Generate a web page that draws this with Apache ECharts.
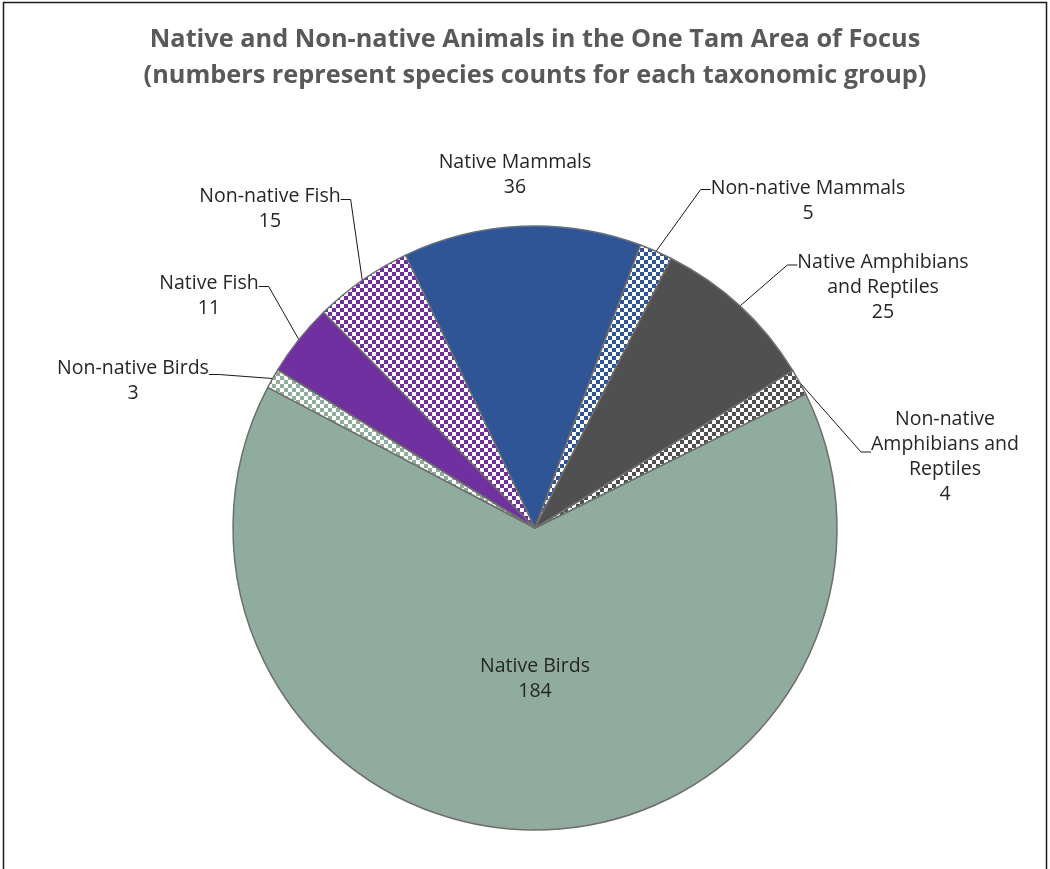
<!DOCTYPE html>
<html><head><meta charset="utf-8">
<script src="https://cdn.jsdelivr.net/npm/echarts@6/dist/echarts.min.js"></script>
<style>html,body{margin:0;padding:0;background:#fff}#c{width:1050px;height:869px}</style>
</head><body><div id="c"></div>
<script>
// ---- data ----
const categories = [
  'Native Birds',
  'Non-native Birds',
  'Native Fish',
  'Non-native Fish',
  'Native Mammals',
  'Non-native Mammals',
  'Native Amphibians\nand Reptiles',
  'Non-native\nAmphibians and\nReptiles'
];
const speciesCounts = [184, 3, 11, 15, 36, 5, 25, 4];
const nonNative = [false, true, false, true, false, true, false, true];

// ---- style / layout ----
const baseColors = ['#8FAC9E', '#8FAC9E', '#7030A0', '#7030A0', '#2F5597', '#2F5597', '#505050', '#505050'];
// label text-block centres, and an invisible spacer above each label that moves the leader-line attach point up
const labelPos = [[535, 679], [133, 381], [209, 296], [270, 209], [515, 175], [808, 201], [883, 287], [945, 457]];
const labelPadTop = [0, 13, 19, 19, 0, 23, 44, 10];

function checker(color) {
  const c = document.createElement('canvas');
  c.width = 8; c.height = 8;
  const g = c.getContext('2d');
  g.fillStyle = '#ffffff'; g.fillRect(0, 0, 8, 8);
  g.fillStyle = color; g.fillRect(0, 0, 4, 4); g.fillRect(4, 4, 4, 4);
  return c;
}

const data = categories.map((name, i) => {
  const item = {
    name: name,
    value: speciesCounts[i],
    itemStyle: { color: nonNative[i] ? { image: checker(baseColors[i]), repeat: 'repeat' } : baseColors[i] }
  };
  if (labelPadTop[i] > 0) {
    item.label = {
      formatter: '{pad| }\n{b}\n{c}',
      rich: { pad: { fontSize: 1, height: labelPadTop[i], lineHeight: labelPadTop[i] } }
    };
  } else {
    item.label = {};
  }
  if (i === 0) item.label.position = 'inside';
  if (i === 4) item.labelLine = { show: false };
  return item;
});

const chart = echarts.init(document.getElementById('c'));
chart.setOption({
  backgroundColor: '#fff',
  animation: false,
  title: {
    text: 'Native and Non-native Animals in the One Tam Area of Focus\n(numbers represent species counts for each taxonomic group)',
    left: 530, top: 17, textAlign: 'center',
    textStyle: { fontFamily: 'Open Sans', fontWeight: 'bold', fontSize: 25.3, color: '#595959', lineHeight: 36 }
  },
  graphic: [{
    type: 'rect', shape: { x: 3.5, y: 2.5, width: 1043, height: 880 },
    style: { fill: 'none', stroke: '#1a1a1a', lineWidth: 1.5 }, silent: true, z: 100
  }],
  series: [{
    type: 'pie',
    center: [535, 528],
    radius: [0, 302],
    startAngle: 26.3,
    clockwise: true,
    avoidLabelOverlap: false,
    itemStyle: { borderColor: '#6E6E6E', borderWidth: 1.5 },
    label: {
      show: true, position: 'outside', formatter: '{b}\n{c}',
      fontFamily: 'Open Sans', fontSize: 19.5, lineHeight: 25, color: '#262626', align: 'center'
    },
    labelLine: { show: true, length: 10, length2: 10, lineStyle: { color: '#1a1a1a', width: 1 } },
    labelLayout: function (p) {
      const pos = labelPos[p.dataIndex];
      if (!pos) return {};
      return { x: pos[0], y: pos[1] - labelPadTop[p.dataIndex] / 2, align: 'center', verticalAlign: 'middle' };
    },
    emphasis: { disabled: true },
    data: data
  }]
});
</script></body></html>
